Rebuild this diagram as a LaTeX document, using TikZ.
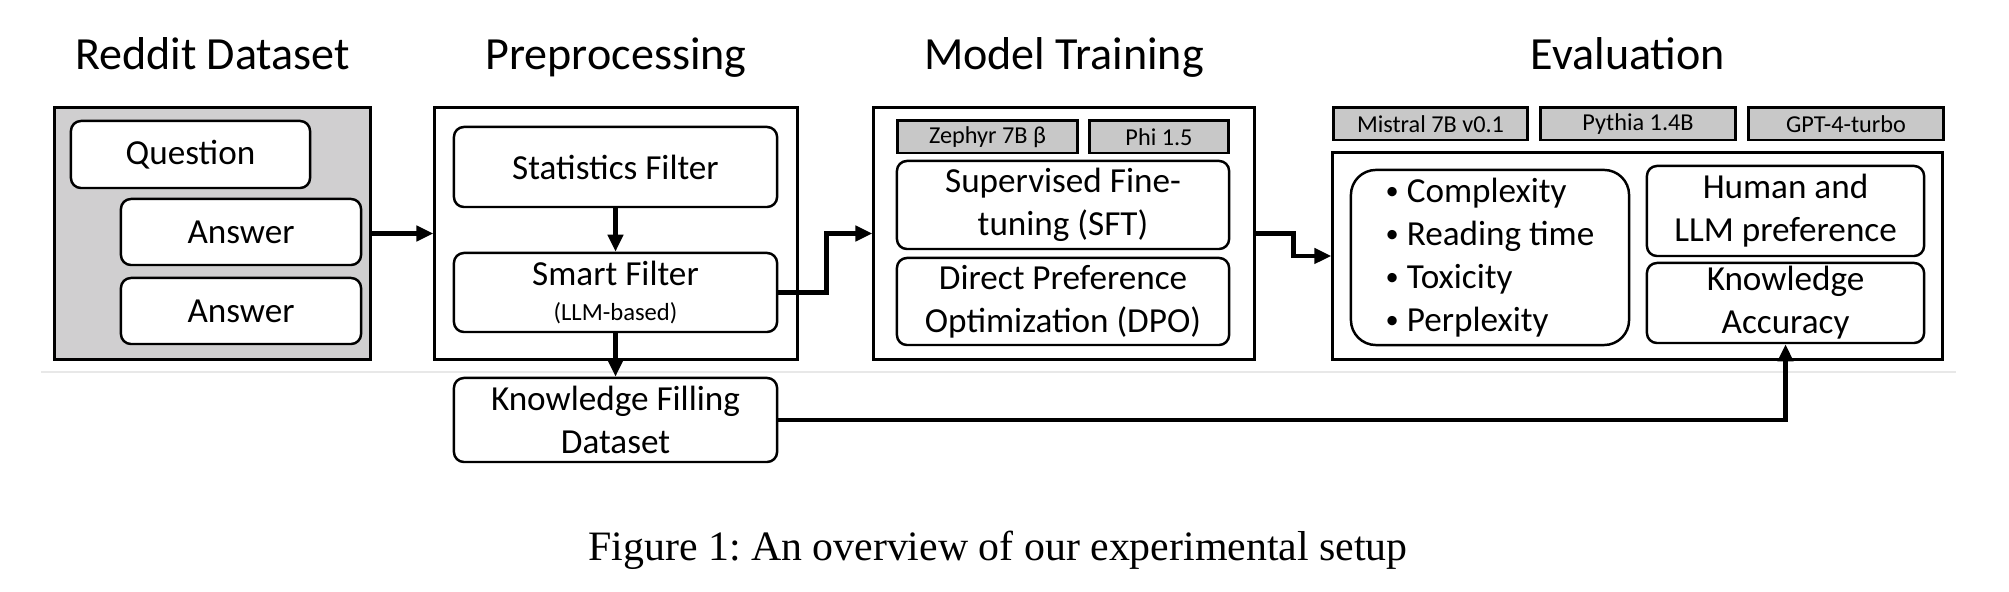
\documentclass[tikz,border=0pt]{standalone}
\usepackage{fontspec}
\setmainfont{Carlito}
\newfontfamily\capfont{Liberation Serif}
\usetikzlibrary{arrows.meta}
\definecolor{panelgray}{RGB}{208,207,208}
\definecolor{taggray}{RGB}{200,200,200}
\newcommand{\metricdot}{{\fontsize{7.5}{8}\selectfont\raisebox{0.8pt}{\textbullet}}\ }
\tikzset{
  panel/.style={draw, line width=0.85pt, inner sep=0pt},
  block/.style={draw, fill=white, rounded corners=0.1cm, line width=0.7pt,
    align=center, inner sep=0pt, font=\fontsize{10}{12.2}\selectfont},
  tag/.style={draw, fill=taggray, line width=0.85pt, inner sep=0pt,
    minimum height=0.32cm, font=\fontsize{6.9}{8.5}\selectfont},
  title/.style={anchor=base, font=\fontsize{13.1}{15}\selectfont},
  flow/.style={-{Triangle[length=0.17cm,width=0.15cm]}, line width=1.4pt},
}
\begin{document}
\begin{tikzpicture}[x=0.01cm,y=-0.01cm]
  \useasboundingbox (0,0) rectangle (2009,592);
  \draw[gray!18, line width=0.5pt] (41,372) -- (1956,372);
  % stage titles
  \node[title] (t-reddit) at (212.5,70) {Reddit Dataset};
  \node[title] (t-prep) at (616,70) {Preprocessing};
  \node[title] (t-training) at (1064,70) {Model Training};
  \node[title] (t-eval) at (1628,70) {Evaluation};
  % reddit dataset
  \node[panel, fill=panelgray, minimum width=3.15cm, minimum height=2.51cm] (reddit) at (212.5,233.5) {};
  \node[block, minimum width=2.39cm, minimum height=0.67cm] (question) at (190.5,154.5) {Question};
  \node[block, minimum width=2.4cm, minimum height=0.66cm] (answer1) at (241,232) {Answer};
  \node[block, minimum width=2.4cm, minimum height=0.66cm] (answer2) at (241,311) {Answer};
  % preprocessing
  \node[panel, minimum width=3.62cm, minimum height=2.51cm] (prep) at (616,233.5) {};
  \node[block, minimum width=3.23cm, minimum height=0.8cm] (statfilter) at (615.5,167) {Statistics Filter};
  \node[block, minimum width=3.23cm, minimum height=0.79cm] (smartfilter) at (615.5,292.5)
    {Smart Filter\\[-2.5pt]{\fontsize{7}{8.5}\selectfont (LLM-based)}};
  \node[block, minimum width=3.23cm, minimum height=0.84cm] (kfdata) at (615.5,420) {Knowledge Filling\\Dataset};
  % model training
  \node[panel, minimum width=3.8cm, minimum height=2.51cm] (training) at (1064,233.5) {};
  \node[tag, minimum width=1.79cm] (zephyr) at (987.5,137) {Zephyr 7B β};
  \node[tag, minimum width=1.38cm] (phi) at (1159,137) {Phi 1.5};
  \node[block, minimum width=3.32cm, minimum height=0.88cm] (sft) at (1063,205) {Supervised Fine-\\tuning (SFT)};
  \node[block, minimum width=3.32cm, minimum height=0.87cm] (dpo) at (1063,301.5) {Direct Preference\\Optimization (DPO)};
  % evaluation
  \node[tag, minimum width=1.93cm] (mistral) at (1430.5,124) {Mistral 7B v0.1};
  \node[tag, minimum width=1.94cm] (pythia) at (1638,124) {Pythia 1.4B};
  \node[tag, minimum width=1.94cm] (gpt) at (1846,124) {GPT-4-turbo};
  \node[panel, minimum width=6.09cm, minimum height=2.06cm] (evaluation) at (1637.5,256) {};
  \node[block, rounded corners=0.25cm, align=left, minimum width=2.78cm, minimum height=1.75cm] (metrics) at (1490,257.5)
    {\metricdot Complexity\\\metricdot Reading time\\\metricdot Toxicity\\\metricdot Perplexity};
  \node[block, minimum width=2.77cm, minimum height=0.9cm] (preference) at (1785.5,211) {Human and\\LLM preference};
  \node[block, minimum width=2.77cm, minimum height=0.8cm] (accuracy) at (1785.5,303) {Knowledge\\Accuracy};
  % connectors
  \draw[flow] (reddit) -- (prep);
  \draw[flow] (statfilter) -- (smartfilter);
  \draw[flow] (smartfilter) -- (kfdata);
  \draw[flow] (smartfilter.east) -- ++(48,0) |- (training.west);
  \draw[flow] (training.east) -- ++(38,0) |- (evaluation.west);
  \draw[flow] (kfdata.east) -| (accuracy.south);
  % caption
  \node[anchor=base, font=\capfont\fontsize{11.9}{14}\selectfont] (caption) at (998,561)
    {\frenchspacing Figure 1: An overview of our experimental setup};
\end{tikzpicture}
\end{document}
